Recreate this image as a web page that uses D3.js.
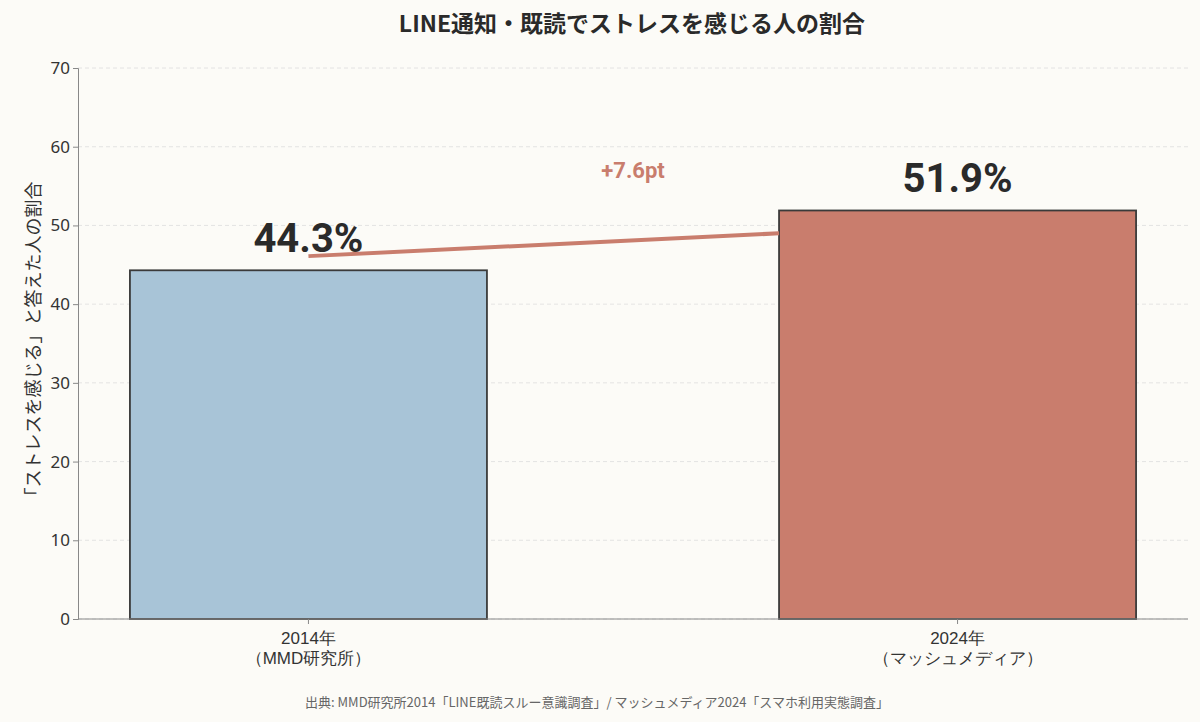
<!DOCTYPE html>
<html><head><meta charset="utf-8">
<script src="https://cdn.jsdelivr.net/npm/d3@7"></script>
<style>body{margin:0;background:#fcfbf7;font-family:"Noto Sans CJK JP","Noto Sans",sans-serif;}</style>
</head><body>
<script>
var categories = ['2014年\n（MMD研究所）', '2024年\n（マッシュメディア）'];
var values = [44.3, 51.9];
var colors = ['#a8c4d7', '#c97d6d'];
var yTicks = [0, 10, 20, 30, 40, 50, 60, 70];
var lineValues = [46.1, 49.0];

var width = 1200, height = 722;
var m = {left: 78, right: 12, top: 68, bottom: 103};

var svg = d3.select('body').append('svg')
    .attr('width', width).attr('height', height)
    .style('background', '#fcfbf7');

var x = d3.scaleBand().domain(categories).range([m.left, width - m.right]).paddingInner(0.45).paddingOuter(0.08);
var y = d3.scaleLinear().domain([0, 70]).range([height - m.bottom, m.top]);

// grid
svg.selectAll('.grid').data(yTicks).enter().append('line')
    .attr('x1', m.left).attr('x2', width - m.right)
    .attr('y1', function (d) { return y(d); }).attr('y2', function (d) { return y(d); })
    .attr('stroke', '#ddd').attr('stroke-dasharray', '4,3').attr('stroke-width', 0.8);

svg.selectAll('rect.bar').data(values).enter().append('rect')
    .attr('x', function (d, i) { return x(categories[i]); })
    .attr('y', function (d) { return y(d); })
    .attr('width', x.bandwidth())
    .attr('height', function (d) { return y(0) - y(d); })
    .attr('fill', function (d, i) { return colors[i]; })
    .attr('stroke', '#3a3a3a').attr('stroke-width', 1.8);

svg.selectAll('text.val').data(values).enter().append('text')
    .attr('x', function (d, i) { return x(categories[i]) + x.bandwidth() / 2; })
    .attr('y', function (d) { return y(d) - 18; })
    .attr('text-anchor', 'middle').attr('font-size', 40).attr('font-weight', 'bold')
    .attr('fill', '#2a2a2a').attr('font-family', 'Roboto, sans-serif')
    .text(function (d) { return d.toFixed(1) + '%'; });

// trend line
svg.append('line')
    .attr('x1', x(categories[0]) + x.bandwidth() / 2).attr('y1', y(lineValues[0]))
    .attr('x2', x(categories[1])).attr('y2', y(lineValues[1]))
    .attr('stroke', '#c97d6d').attr('stroke-width', 4);
svg.append('text')
    .attr('x', (x(categories[0]) + x.bandwidth() + x(categories[1])) / 2).attr('y', 178)
    .attr('text-anchor', 'middle').attr('font-size', 22).attr('font-weight', 'bold')
    .attr('fill', '#c97d6d').attr('font-family', 'Roboto, sans-serif')
    .text('+' + (values[1] - values[0]).toFixed(1) + 'pt');

// axes
var ya = svg.append('g').attr('transform', 'translate(' + m.left + ',0)')
    .call(d3.axisLeft(y).tickValues(yTicks).tickSize(5));
ya.selectAll('text').attr('font-size', 17).attr('fill', '#333').attr('font-family', 'Noto Sans, sans-serif');
ya.select('.domain').attr('stroke', '#888');
ya.selectAll('.tick line').attr('stroke', '#888');

var xa = svg.append('g').attr('transform', 'translate(0,' + y(0) + ')')
    .call(d3.axisBottom(x).tickSize(5).tickFormat(''));
xa.select('.domain').attr('stroke', '#888').attr('d', 'M' + m.left + ',0H' + (width - m.right));
xa.selectAll('.tick line').attr('stroke', '#888');
xa.selectAll('.tick').each(function (d) {
    var t = d3.select(this).append('text').attr('fill', '#333').attr('font-size', 17).attr('text-anchor', 'middle');
    d.split('\n').forEach(function (s, i) {
        t.append('tspan').attr('x', 0).attr('y', 25 + i * 20).text(s);
    });
});

svg.append('text').attr('transform', 'translate(40,' + ((m.top + y(0)) / 2) + ') rotate(-90)')
    .attr('text-anchor', 'middle').attr('font-size', 18).attr('fill', '#333')
    .text('「ストレスを感じる」と答えた人の割合');

svg.append('text').attr('x', 632).attr('y', 32).attr('text-anchor', 'middle')
    .attr('font-size', 23).attr('font-weight', 'bold').attr('fill', '#2a2a2a')
    .text('LINE通知・既読でストレスを感じる人の割合');

svg.append('text').attr('x', 597).attr('y', 707).attr('text-anchor', 'middle')
    .attr('font-size', 13).attr('fill', '#666')
    .text('出典: MMD研究所2014「LINE既読スルー意識調査」/ マッシュメディア2024「スマホ利用実態調査」');
</script>
</body></html>
